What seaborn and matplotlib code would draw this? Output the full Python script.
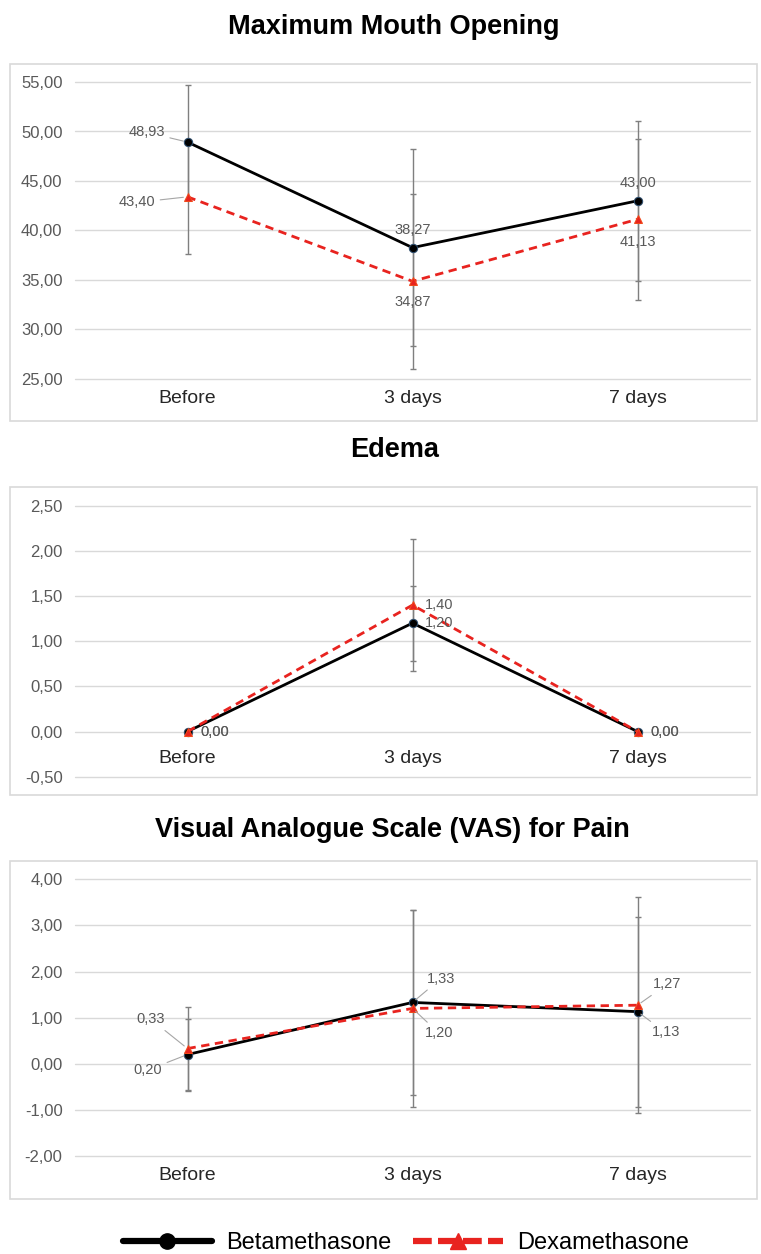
import matplotlib
matplotlib.use('Agg')
import matplotlib.pyplot as plt
from matplotlib.lines import Line2D
from matplotlib.patches import Rectangle
from matplotlib.ticker import FuncFormatter, MultipleLocator
import seaborn as sns
import numpy as np
import pandas as pd

# ---- data ----
times = ["Before", "3 days", "7 days"]
groups = ["Betamethasone", "Dexamethasone"]

mmo_beta = [48.93, 38.27, 43.00]
mmo_dexa = [43.40, 34.87, 41.13]
mmo_beta_sd = [5.73, 9.95, 8.08]
mmo_dexa_sd = [5.77, 8.83, 8.15]

edema_beta = [0.00, 1.20, 0.00]
edema_dexa = [0.00, 1.40, 0.00]
edema_beta_sd = [0.0, 0.415, 0.0]
edema_dexa_sd = [0.0, 0.735, 0.0]

vas_beta = [0.20, 1.33, 1.13]
vas_dexa = [0.33, 1.20, 1.27]
vas_beta_sd = [0.78, 2.00, 2.06]
vas_dexa_sd = [0.90, 2.13, 2.34]

# ---- style ----
sns.set_theme(style="white")
plt.rcParams['font.family'] = ['Liberation Sans', 'DejaVu Sans']

BLACK = '#000000'
RED = '#e8231f'
GRID = '#d9d9d9'
TXT = '#595959'
ERR = '#7f7f7f'


def comma(v, _=None):
    return f"{v:.2f}".replace('.', ',')


def draw_panel(ax, beta, dexa, beta_sd, dexa_sd, ylim, step, labels, axis_at_zero=False):
    pos = np.arange(len(times))
    df = pd.DataFrame({
        'pos': np.concatenate([pos, pos]),
        'value': beta + dexa,
        'group': [groups[0]] * 3 + [groups[1]] * 3,
    })
    for sd_vals, vals in [(beta_sd, beta), (dexa_sd, dexa)]:
        ax.errorbar(pos, vals, yerr=sd_vals, fmt='none', ecolor=ERR, elinewidth=1.0,
                    capsize=2.5, capthick=1.0, zorder=2)
    sns.lineplot(data=df, x='pos', y='value', hue='group', style='group',
                 palette={groups[0]: BLACK, groups[1]: RED},
                 markers={groups[0]: 'o', groups[1]: '^'},
                 dashes={groups[0]: '', groups[1]: (3, 2)},
                 markersize=6, linewidth=2, ax=ax, legend=False, zorder=3)
    # marker edges like excel
    for ln in ax.lines:
        if ln.get_color() == RED:
            ln.set_markeredgecolor('#f04a1c')
            ln.set_markerfacecolor('#e8231f')
        elif ln.get_marker() == 'o':
            ln.set_markeredgecolor('#2f4f6f')
            ln.set_markerfacecolor('#000000')

    for (series, idx, dx, dy, ha, va, leader) in labels:
        v = beta[idx] if series == 0 else dexa[idx]
        kw = {}
        if leader:
            kw['arrowprops'] = dict(arrowstyle='-', color='#a6a6a6', lw=0.8,
                                    shrinkA=1, shrinkB=3)
        ax.annotate(comma(v), xy=(idx, v), xytext=(dx, dy), textcoords='offset points',
                    ha=ha, va=va, fontsize=10.5, color=TXT, zorder=5, **kw)

    ax.set_xlim(-0.5, 2.5)
    ax.set_ylim(*ylim)
    ax.yaxis.set_major_locator(MultipleLocator(step))
    ax.yaxis.set_major_formatter(FuncFormatter(comma))
    ax.set_xticks(pos)
    ax.set_xticklabels(times)
    ax.set_xlabel('')
    ax.set_ylabel('')
    ax.grid(axis='y', color=GRID, lw=1)
    ax.grid(axis='x', visible=False)
    ax.set_axisbelow(True)
    for gl in ax.get_ygridlines():
        gl.set_clip_on(False)
    for s in ax.spines.values():
        s.set_visible(False)
    if axis_at_zero:
        ax.spines['bottom'].set_position(('data', 0))
    ax.tick_params(axis='y', length=0, labelsize=12, labelcolor=TXT, pad=9)
    ax.tick_params(axis='x', length=0, labelsize=14, labelcolor='#262626',
                   pad=13 if axis_at_zero else 8)


fig = plt.figure(figsize=(7.61, 12.54), dpi=100)
W, H = 761.0, 1254.0


def axes_px(x0, y_top, x1, y_bot):
    return fig.add_axes([x0 / W, 1 - y_bot / H, (x1 - x0) / W, (y_bot - y_top) / H])


def frame_px(x0, y0, x1, y1):
    fig.patches.append(Rectangle((x0 / W, 1 - y1 / H), (x1 - x0) / W, (y1 - y0) / H,
                                 transform=fig.transFigure, fill=False,
                                 edgecolor='#d9d9d9', lw=1.2, zorder=0))


TITLE_KW = dict(ha='center', va='center', fontsize=19.5, fontweight='bold', color='#000000')

# Panel 1: maximum mouth opening
frame_px(10, 64, 757, 421)
ax1 = axes_px(75, 82, 750, 379)
draw_panel(ax1, mmo_beta, mmo_dexa, mmo_beta_sd, mmo_dexa_sd, (25, 55), 5,
           [(0, 0, -16, 7, 'right', 'center', True),
            (1, 0, -23, -4, 'right', 'center', True),
            (0, 1, 0, 8, 'center', 'bottom', False),
            (1, 1, 0, -10, 'center', 'top', False),
            (0, 2, 0, 8, 'center', 'bottom', False),
            (1, 2, 0, -11, 'center', 'top', False)])
fig.text(0.518, 1 - 27 / H, 'Maximum Mouth Opening', **TITLE_KW)

# Panel 2: edema
frame_px(10, 487, 757, 795)
ax2 = axes_px(75, 505.7, 750, 776.7)
draw_panel(ax2, edema_beta, edema_dexa, edema_beta_sd, edema_dexa_sd, (-0.5, 2.5), 0.5,
           [(0, 0, 9, 0, 'left', 'center', False),
            (1, 0, 9, 0, 'left', 'center', False),
            (0, 1, 9, 0, 'left', 'center', False),
            (1, 1, 9, 0, 'left', 'center', False),
            (0, 2, 9, 0, 'left', 'center', False),
            (1, 2, 9, 0, 'left', 'center', False)], axis_at_zero=True)
fig.text(0.518, 1 - 450 / H, 'Edema', **TITLE_KW)

# Panel 3: VAS
frame_px(10, 861, 757, 1199)
ax3 = axes_px(75, 879.3, 750, 1156)
draw_panel(ax3, vas_beta, vas_dexa, vas_beta_sd, vas_dexa_sd, (-2, 4), 1,
           [(1, 0, -16, 21, 'right', 'center', True),
            (0, 0, -18, -11, 'right', 'center', True),
            (0, 1, 10, 17, 'left', 'center', True),
            (1, 1, 9, -18, 'left', 'center', True),
            (1, 2, 11, 15, 'left', 'center', True),
            (0, 2, 10, -15, 'left', 'center', True)])
fig.text(0.516, 1 - 830 / H, 'Visual Analogue Scale (VAS) for Pain', **TITLE_KW)

# Legend
handles = [Line2D([], [], color=BLACK, lw=4.5, marker='o', markersize=11),
           Line2D([], [], color=RED, lw=4.5, ls=(0, (3, 1)), marker='^', markersize=12)]
leg = fig.legend(handles, groups, loc='center', bbox_to_anchor=(0.533, 1 - 1243 / H),
                 ncol=2, frameon=False, handlelength=3.8, columnspacing=0.9,
                 handletextpad=0.6, prop={'size': 17})
for t in leg.get_texts():
    t.set_color('#000000')

fig.savefig('out.png', dpi=100)
